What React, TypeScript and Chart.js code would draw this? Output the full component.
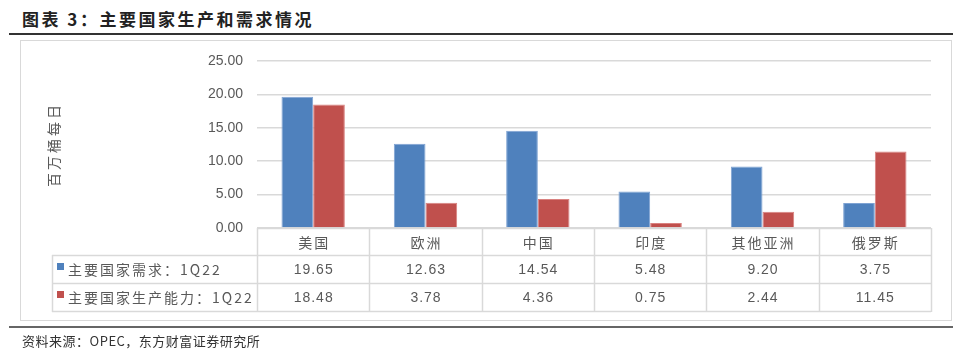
import React, { useEffect, useRef } from 'react';
import { Chart, registerables } from 'chart.js';

Chart.register(...registerables);

const chartTitle = '图表 3：主要国家生产和需求情况';
const sourceText = '资料来源：OPEC，东方财富证券研究所';
const yAxisTitle = '百万桶每日';
const categories = ['美国', '欧洲', '中国', '印度', '其他亚洲', '俄罗斯'];
const seriesNames = ['主要国家需求：1Q22', '主要国家生产能力：1Q22'];
const demand = [19.65, 12.63, 14.54, 5.48, 9.2, 3.75];
const capacity = [18.48, 3.78, 4.36, 0.75, 2.44, 11.45];
const yMin = 0;
const yMax = 25;
const yStep = 5;

const BLUE = '#4F81BD';
const RED = '#C0504D';
const TEXT = '#595959';
const GRID = '#d9d9d9';
const CJK = '"Noto Sans CJK SC", sans-serif';
const NUM = '"Liberation Sans", Arial, sans-serif';

const yTitlePlugin = {
  id: 'yTitle',
  afterDraw(chart: any) {
    const { ctx, chartArea } = chart;
    ctx.save();
    ctx.translate(54, (chartArea.top + chartArea.bottom) / 2);
    ctx.rotate(-Math.PI / 2);
    ctx.font = `14px ${CJK}`;
    (ctx as any).letterSpacing = '3px';
    ctx.fillStyle = TEXT;
    ctx.textAlign = 'center';
    ctx.textBaseline = 'middle';
    ctx.fillText(yAxisTitle, 0, 0);
    ctx.restore();
  },
};

const tablePlugin = {
  id: 'dataTable',
  afterDraw(chart: any) {
    const { ctx, chartArea } = chart;
    const xs = chart.scales.x;
    const n = categories.length;
    const w = (chartArea.right - chartArea.left) / n;
    const top = Math.round(chartArea.bottom);
    const rows = [top, top + 27, top + 55, top + 83];
    const legendLeft = 52;
    const left = Math.round(chartArea.left);
    const right = Math.round(chartArea.right);

    const line = (x1: number, y1: number, x2: number, y2: number) => {
      ctx.beginPath();
      ctx.moveTo(x1, y1);
      ctx.lineTo(x2, y2);
      ctx.stroke();
    };

    ctx.save();
    ctx.strokeStyle = GRID;
    ctx.lineWidth = 1.5;
    line(left, rows[0] + 0.5, right, rows[0] + 0.5);
    for (let r = 1; r < rows.length; r++) line(legendLeft, rows[r] + 0.5, right, rows[r] + 0.5);
    line(legendLeft + 0.5, rows[1], legendLeft + 0.5, rows[3] + 1);
    for (let i = 0; i <= n; i++) {
      const xx = Math.round(left + i * w) + 0.5;
      line(xx, rows[0], xx, rows[3] + 1);
    }

    ctx.fillStyle = TEXT;
    ctx.textAlign = 'center';
    ctx.textBaseline = 'middle';
    // header row: categories
    ctx.font = `14px ${CJK}`;
    (ctx as any).letterSpacing = '2px';
    categories.forEach((c, i) => {
      ctx.fillText(c, xs.getPixelForValue(i) + 1, (rows[0] + rows[1]) / 2 + 1);
    });
    // values
    ctx.font = `14px ${NUM}`;
    (ctx as any).letterSpacing = '1px';
    const series = [demand, capacity];
    series.forEach((vals, r) => {
      vals.forEach((v, i) => {
        ctx.fillText(v.toFixed(2), xs.getPixelForValue(i) + 0.5, (rows[r + 1] + rows[r + 2]) / 2 + 1);
      });
    });
    // legend keys
    const colors = [BLUE, RED];
    ctx.textAlign = 'left';
    ctx.font = `14px ${CJK}`;
    (ctx as any).letterSpacing = '2px';
    seriesNames.forEach((name, r) => {
      ctx.fillStyle = colors[r];
      ctx.fillRect(57, rows[r + 1] + 8, 7, 7);
      ctx.fillStyle = TEXT;
      ctx.fillText(name, 68, (rows[r + 1] + rows[r + 2]) / 2 + 1);
    });
    ctx.restore();
  },
};

export default function App() {
  const ref = useRef<HTMLCanvasElement>(null);

  useEffect(() => {
    document.body.style.margin = '0';
    const canvas = ref.current!;
    const chart = new Chart(canvas, {
      type: 'bar',
      data: {
        labels: categories,
        datasets: [
          {
            label: seriesNames[0],
            data: demand,
            backgroundColor: BLUE,
            borderColor: '#7FA3D3',
            borderWidth: 1,
            barPercentage: 1,
            categoryPercentage: 0.564,
          },
          {
            label: seriesNames[1],
            data: capacity,
            backgroundColor: RED,
            borderColor: '#D98280',
            borderWidth: 1,
            barPercentage: 1,
            categoryPercentage: 0.564,
          },
        ],
      },
      options: {
        responsive: false,
        animation: false,
        devicePixelRatio: 1,
        layout: { padding: { top: 61, right: 31, bottom: 129, left: 0 } },
        plugins: {
          legend: { display: false },
          tooltip: { enabled: false },
          title: { display: false },
        },
        scales: {
          x: { display: false },
          y: {
            min: yMin,
            max: yMax,
            border: { display: false },
            grid: { color: GRID, lineWidth: 1.5, drawTicks: false },
            ticks: {
              stepSize: yStep,
              padding: 14,
              color: TEXT,
              font: { family: NUM, size: 14 },
              callback: (v: any) => Number(v).toFixed(2),
            },
            afterFit: (scale: any) => {
              scale.width = 257;
            },
          },
        },
      },
      plugins: [yTitlePlugin, tablePlugin],
    });
    return () => chart.destroy();
  }, []);

  return (
    <div
      style={{
        position: 'relative',
        width: 962,
        height: 357,
        background: '#fff',
        overflow: 'hidden',
        fontFamily: CJK,
      }}
    >
      <div
        style={{
          position: 'absolute',
          left: 22,
          top: 7,
          fontSize: 17,
          fontWeight: 700,
          letterSpacing: 2.5,
          color: '#222',
          lineHeight: '24px',
          whiteSpace: 'nowrap',
        }}
      >
        {chartTitle}
      </div>
      <div style={{ position: 'absolute', left: 9, top: 33, width: 944, height: 2, background: '#333' }} />
      <div
        style={{
          position: 'absolute',
          left: 20,
          top: 40,
          width: 930,
          height: 279,
          border: '1px solid #d9d9d9',
        }}
      />
      <canvas
        ref={ref}
        width={962}
        height={357}
        style={{ position: 'absolute', left: 0, top: 0, width: 962, height: 357 }}
      />
      <div style={{ position: 'absolute', left: 9, top: 326, width: 944, height: 2, background: '#666' }} />
      <div
        style={{
          position: 'absolute',
          left: 22,
          top: 332,
          fontSize: 13,
          letterSpacing: 0.5,
          color: '#333',
          lineHeight: '18px',
          whiteSpace: 'nowrap',
        }}
      >
        {sourceText}
      </div>
    </div>
  );
}
